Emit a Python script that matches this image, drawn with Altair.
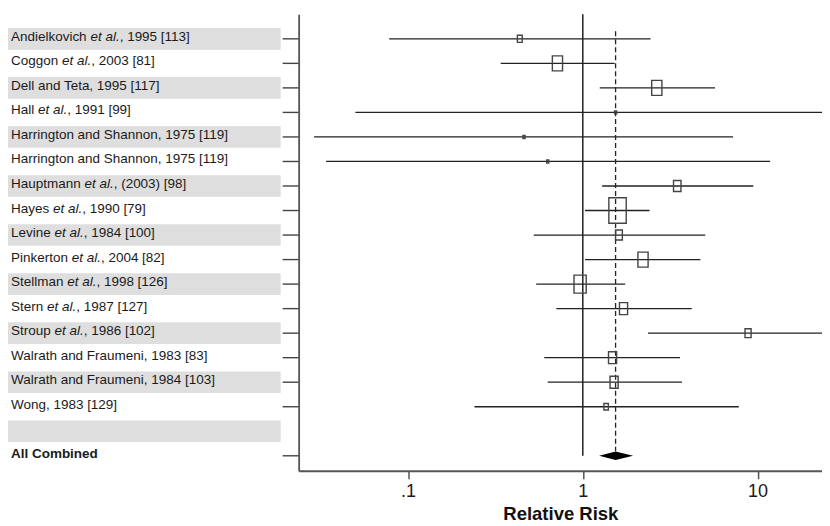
import altair as alt
import pandas as pd

# ---------------- data ----------------
studies = [
    "Andielkovich et al., 1995 [113]",
    "Coggon et al., 2003 [81]",
    "Dell and Teta, 1995 [117]",
    "Hall et al., 1991 [99]",
    "Harrington and Shannon, 1975 [119]",
    "Harrington and Shannon, 1975 [119]",
    "Hauptmann et al., (2003) [98]",
    "Hayes et al., 1990 [79]",
    "Levine et al., 1984 [100]",
    "Pinkerton et al., 2004 [82]",
    "Stellman et al., 1998 [126]",
    "Stern et al., 1987 [127]",
    "Stroup et al., 1986 [102]",
    "Walrath and Fraumeni, 1983 [83]",
    "Walrath and Fraumeni, 1984 [103]",
    "Wong, 1983 [129]",
]
rr = [0.436, 0.716, 2.65, 1.54, 0.461, 0.63, 3.47, 1.58, 1.61, 2.21, 0.965, 1.71, 8.82, 1.48, 1.51, 1.36]
lower = [0.078, 0.339, 1.25, 0.050, 0.029, 0.034, 1.29, 1.03, 0.524, 1.03, 0.541, 0.706, 2.36, 0.602, 0.63, 0.240]
upper = [2.44, 1.52, 5.71, 40.0, 7.24, 11.8, 9.45, 2.41, 5.02, 4.71, 1.75, 4.2, 35.0, 3.6, 3.69, 7.8]
weight = [2.0, 9.0, 9.0, 0.36, 0.36, 0.36, 4.8, 26.1, 4.0, 9.0, 12.9, 5.7, 3.2, 5.7, 5.7, 1.7]

combined_label = "All Combined"
combined_rr = 1.54
combined_lower = 1.24
combined_upper = 1.94

x_ticks = [0.1, 1, 10]
x_title = "Relative Risk"

# ---------------- layout helpers ----------------
FONT = "Liberation Sans"
FS = 13.5
LW = 273          # label panel width
PW = 524          # plot panel width
H = 457           # panel height
X_DOMAIN = [0.02367, 23.36]
Y_DOMAIN = [0.0, 18.61]
TICK = 16

n = len(studies)
comb_row = n + 2

# Arial / Liberation Sans advance widths (per 1000 em)
W = {" ": 278, ",": 278, ".": 278, "(": 333, ")": 333, "[": 278, "]": 278}
W.update({d: 556 for d in "0123456789"})
W.update(dict(zip("ABCDEFGHIJKLMNOPQRSTUVWXYZ",
                  [667, 667, 722, 722, 667, 611, 778, 722, 278, 500, 667, 556, 833,
                   722, 778, 667, 778, 722, 667, 611, 722, 667, 944, 667, 667, 611])))
W.update(dict(zip("abcdefghijklmnopqrstuvwxyz",
                  [556, 556, 500, 556, 556, 278, 556, 556, 222, 222, 500, 222, 833,
                   556, 556, 556, 556, 333, 500, 278, 556, 500, 722, 500, 500, 500])))


def tw(s):
    return sum(W.get(c, 556) for c in s) * FS / 1000.0


seg_rows = []
for i, lab in enumerate(studies):
    row = i + 1
    if "et al." in lab:
        pre, post = lab.split("et al.", 1)
        parts = [(pre, "normal"), ("et al.", "italic"), (post, "normal")]
    else:
        parts = [(lab, "normal")]
    x = 3.0
    for txt, style in parts:
        if txt:
            seg_rows.append({"row": row, "x": x, "text": txt, "style": style})
        x += tw(txt)
segs = pd.DataFrame(seg_rows)

yscale = alt.Scale(domain=Y_DOMAIN, reverse=True, nice=False, zero=False)
xlab_scale = alt.Scale(domain=[0, LW], nice=False, zero=False)

band_rows = [r for r in range(1, comb_row) if r % 2 == 1]
bands = pd.DataFrame({"row": band_rows})
bands["y0"] = bands["row"] - 0.44
bands["y1"] = bands["row"] + 0.44

band_layer = alt.Chart(bands).mark_rect(color="#dedede").encode(
    x=alt.value(0), x2=alt.value(LW),
    y=alt.Y("y0:Q", scale=yscale, axis=None), y2="y1:Q")

text_base = dict(align="left", baseline="middle", fontSize=FS, font=FONT, color="#1a1a1a", dy=-2)
normal_text = alt.Chart(segs[segs["style"] == "normal"]).mark_text(**text_base).encode(
    x=alt.X("x:Q", scale=xlab_scale, axis=None),
    y=alt.Y("row:Q", scale=yscale, axis=None), text="text:N")
italic_text = alt.Chart(segs[segs["style"] == "italic"]).mark_text(fontStyle="italic", **text_base).encode(
    x=alt.X("x:Q", scale=xlab_scale, axis=None),
    y=alt.Y("row:Q", scale=yscale, axis=None), text="text:N")
comb_df = pd.DataFrame({"row": [comb_row], "x": [3.0], "text": [combined_label]})
bold_text = alt.Chart(comb_df).mark_text(fontWeight="bold", **text_base).encode(
    x=alt.X("x:Q", scale=xlab_scale, axis=None),
    y=alt.Y("row:Q", scale=yscale, axis=None), text="text:N")

label_panel = alt.layer(band_layer, normal_text, italic_text, bold_text).properties(width=LW, height=H)

# ---------------- plot panel ----------------
df = pd.DataFrame({"row": list(range(1, n + 1)), "rr": rr, "lower": lower,
                   "upper": upper, "weight": weight})
tick_df = pd.DataFrame({"row": list(range(1, n + 1)) + [comb_row]})

xscale = alt.Scale(type="log", domain=X_DOMAIN, nice=False)
xaxis = alt.Axis(values=x_ticks, title=x_title,
                 labelExpr="datum.value < 0.5 ? '.1' : (datum.value < 5 ? '1' : '10')",
                 grid=False, tickSize=8, tickColor="#555", tickWidth=1.5,
                 domainColor="#555", domainWidth=1.8,
                 labelFontSize=18, labelFont=FONT, labelColor="#1a1a1a", labelPadding=4,
                 titleFontSize=18.5, titleFont=FONT, titleFontWeight="bold", titleColor="#111",
                 titlePadding=4)
yaxis = alt.Axis(labels=False, ticks=False, title=None, grid=False,
                 domainColor="#555", domainWidth=1.8)

# row tick marks drawn to the left of the y-axis line
row_ticks = alt.Chart(tick_df).mark_rule(color="#444", strokeWidth=1.4).encode(
    x=alt.value(-TICK), x2=alt.value(0),
    y=alt.Y("row:Q", scale=yscale, axis=yaxis))

ci = alt.Chart(df).mark_rule(clip=True, color="#222", strokeWidth=1.3).encode(
    x=alt.X("lower:Q", scale=xscale, axis=xaxis),
    x2="upper:Q",
    y=alt.Y("row:Q", scale=yscale))

box_path = "M-0.68,-1H0.68V1H-0.68Z"
boxes = alt.Chart(df).mark_point(shape=box_path, filled=False, stroke="#444",
                                 strokeWidth=1.4, opacity=1).encode(
    x=alt.X("rr:Q", scale=xscale),
    y=alt.Y("row:Q", scale=yscale),
    size=alt.Size("weight:Q", scale=alt.Scale(domain=[0, 100], range=[0, 2506]), legend=None))

null_df = pd.DataFrame({"x": [1.0], "y0": [Y_DOMAIN[0]], "y1": [comb_row]})
null_line = alt.Chart(null_df).mark_rule(color="#111", strokeWidth=1.4).encode(
    x=alt.X("x:Q", scale=xscale), y=alt.Y("y0:Q", scale=yscale), y2="y1:Q")

pool_df = pd.DataFrame({"x": [combined_rr], "y0": [0.69], "y1": [comb_row - 0.18]})
pool_line = alt.Chart(pool_df).mark_rule(color="#222", strokeWidth=1.3, strokeDash=[5, 3]).encode(
    x=alt.X("x:Q", scale=xscale), y=alt.Y("y0:Q", scale=yscale), y2="y1:Q")

dia_df = pd.DataFrame({"x": [combined_lower, combined_rr, combined_upper],
                       "ylo": [comb_row, comb_row - 0.175, comb_row],
                       "yhi": [comb_row, comb_row + 0.175, comb_row]})
diamond = alt.Chart(dia_df).mark_area(color="black", orient="vertical").encode(
    x=alt.X("x:Q", scale=xscale), y=alt.Y("ylo:Q", scale=yscale), y2="yhi:Q")

plot_panel = alt.layer(row_ticks, null_line, pool_line, ci, boxes, diamond).properties(width=PW, height=H)

chart = alt.hconcat(label_panel, plot_panel, spacing=1).properties(
    padding={"left": 0, "top": 5, "right": 0, "bottom": 0}
).configure(font=FONT).configure_view(stroke="transparent", strokeWidth=0)

chart.save("out.html", embed_options={"renderer": "svg", "actions": False})
